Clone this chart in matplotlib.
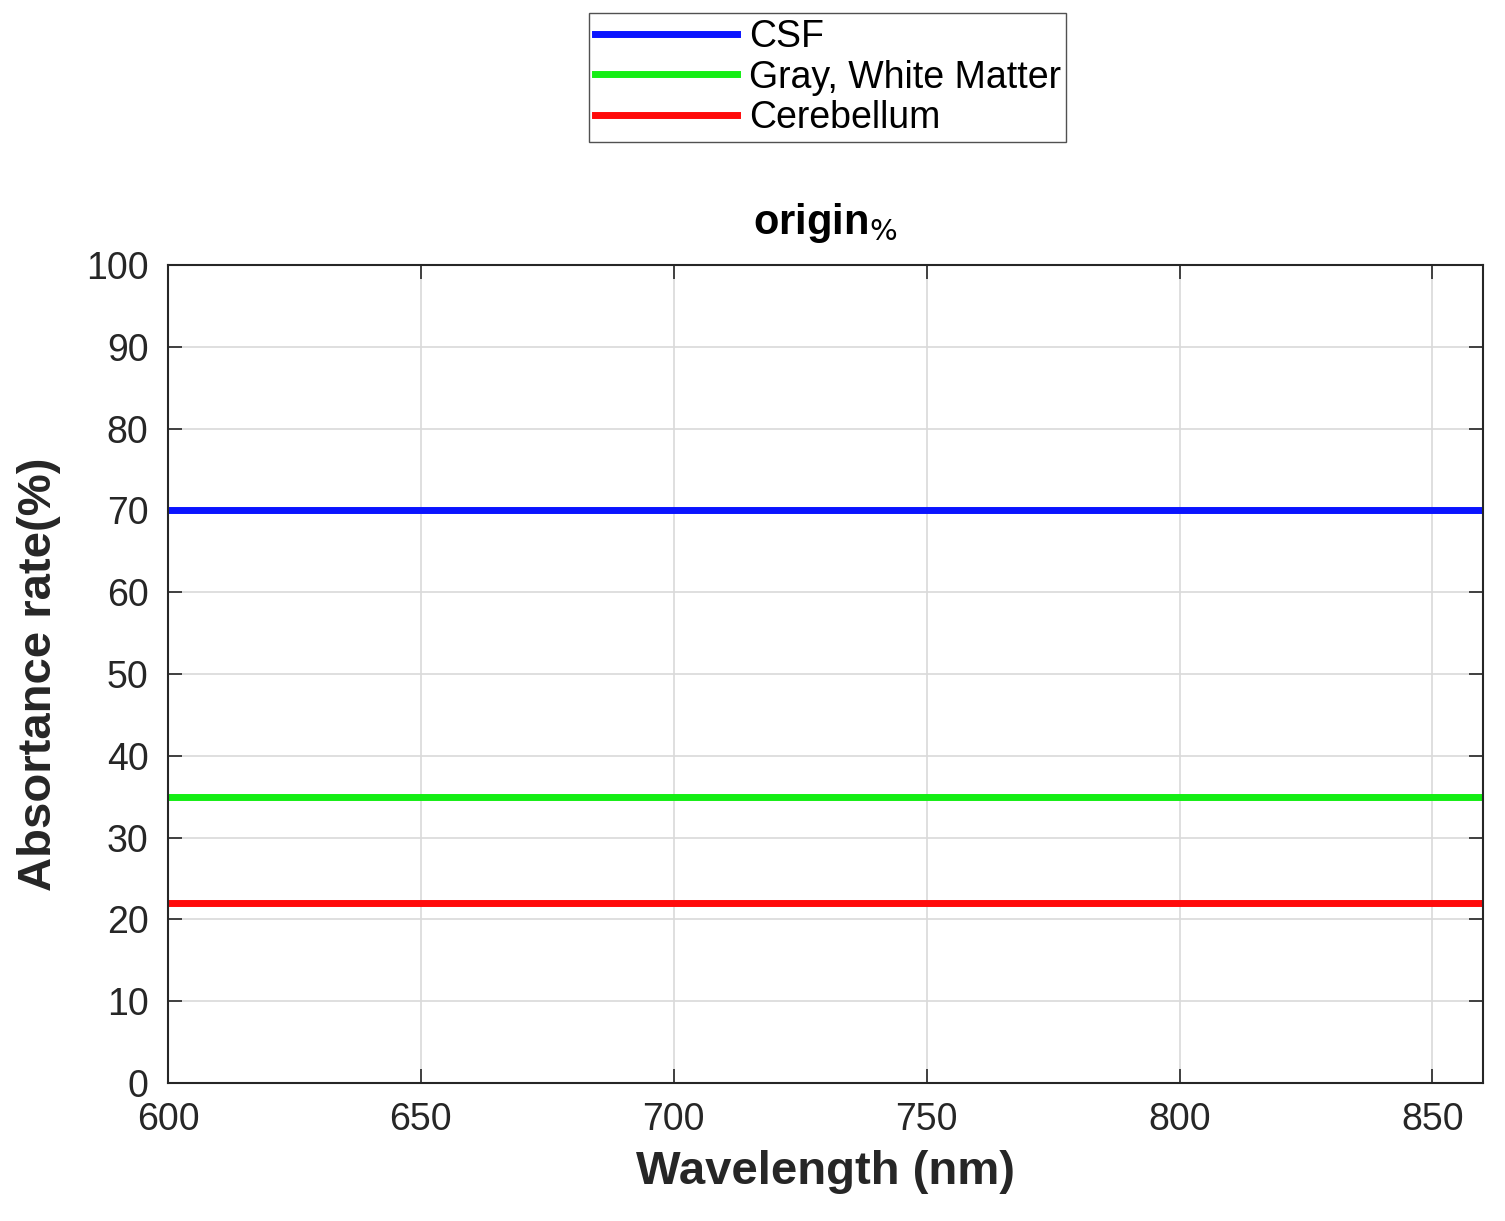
import matplotlib
matplotlib.use("Agg")
import matplotlib.pyplot as plt
import numpy as np

# --- Data ---
wavelength = [600, 650, 700, 750, 800, 850, 860]
csf = [70, 70, 70, 70, 70, 70, 70]
gray_white = [35, 35, 35, 35, 35, 35, 35]
cerebellum = [22, 22, 22, 22, 22, 22, 22]
labels = ["CSF", "Gray, White Matter", "Cerebellum"]
colors = ["#0a14ff", "#14ee14", "#ff0a0a"]

plt.rcParams['font.family'] = ['Liberation Sans', 'DejaVu Sans']

fig = plt.figure(figsize=(15.05, 12.21), dpi=100)
ax = fig.add_axes([0.1116, 0.113, 0.8738, 0.670])

for y, lab, c in zip([csf, gray_white, cerebellum], labels, colors):
    ax.plot(wavelength, y, color=c, linewidth=5, label=lab)

ax.set_xlim(600, 860)
ax.set_ylim(0, 100)
ax.set_xticks(np.arange(600, 851, 50))
ax.set_yticks(np.arange(0, 101, 10))
ax.grid(True, color='#d9d9d9', linewidth=1.2)
ax.tick_params(direction='in', length=10, width=1.2, labelsize=27, pad=14,
               top=True, right=True, colors='#262626', labelcolor='#262626')
for s in ax.spines.values():
    s.set_linewidth(1.5)
    s.set_color('#262626')

ax.set_xlabel("Wavelength (nm)", fontsize=34, fontweight='bold', color='#262626', labelpad=8)
ax.set_ylabel("Absortance rate(%)", fontsize=34, fontweight='bold', color='#262626', labelpad=18)
ax.set_title(r"origin$_{\%}$", fontsize=30, fontweight='bold', pad=22)

fig.legend(loc='upper center', bbox_to_anchor=(0.55, 0.989), fontsize=27,
           frameon=True, fancybox=False, edgecolor='#262626', handlelength=3.8,
           labelspacing=0.12, borderpad=0.15, handletextpad=0.3, borderaxespad=0)

fig.savefig("out.png", dpi=100, facecolor='white')
